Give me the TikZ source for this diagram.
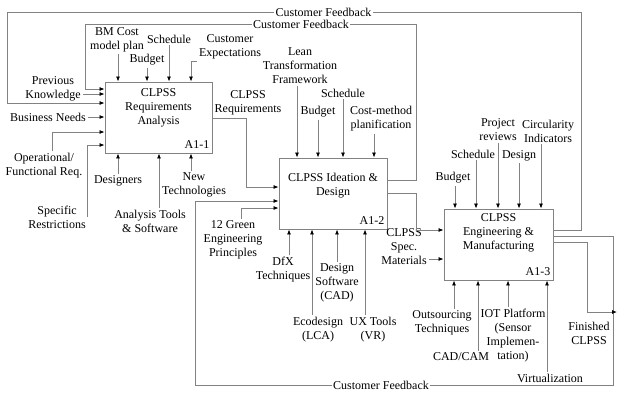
\documentclass[tikz,border=0pt]{standalone}
\usepackage{fontspec}
\setmainfont{Liberation Serif}
\usepackage{tikz}
\usetikzlibrary{positioning,calc,arrows.meta}
\definecolor{linegray}{RGB}{130,130,130}

\begin{document}
\begin{tikzpicture}[x=1pt,y=-1pt,
    font=\fontsize{12}{14}\selectfont,
    fbox/.style={draw=linegray, line width=0.9pt, minimum width=107pt, minimum height=71pt, inner sep=0pt},
    ttl/.style={align=center, inner sep=0pt},
    lbl/.style={align=center, inner sep=2pt},
    boxcode/.style={anchor=south east, inner xsep=3pt, inner ysep=5pt},
    arr/.style={draw=linegray, line width=0.8pt, -{Latex[length=5pt,width=4pt,color=black]}},
    ln/.style={draw=linegray, line width=0.8pt}]
    \useasboundingbox (0,0) rectangle (617,392);

    % activity boxes
    \node[fbox] (a11) at (158.5,117.5) {};
    \node[fbox, minimum width=108pt] (a12) at (333,193.5) {};
    \node[fbox, minimum width=109pt] (a13) at (498.5,244.5) {};
    \node[ttl, below=7pt of a11.north] (a11t) {CLPSS\\Requirements\\Analysis};
    \node[ttl, below=15pt of a12.north] (a12t) {CLPSS Ideation \&\\Design};
    \node[ttl, below=5pt of a13.north] (a13t) {CLPSS\\Engineering \&\\Manufacturing};
    \node[boxcode] (a11c) at (a11.south east) {A1-1};
    \node[boxcode] (a12c) at (a12.south east) {A1-2};
    \node[boxcode] (a13c) at (a13.south east) {A1-3};

    % customer feedback loops
    \node[lbl, inner sep=1pt] (fb1) at (323.5,12) {Customer Feedback};
    \node[lbl, inner sep=1pt] (fb2) at (301,24) {Customer Feedback};
    \node[lbl, inner sep=1pt] (fb3) at (381,385) {Customer Feedback};
    \draw[ln] (a13.east |- 0,230) -| (581,12) -- (fb1.east);
    \draw[arr] (fb1.west) -| (7,103) -- (a11.west |- 0,103);
    \draw[ln] (a12.east |- 0,180) -| (416,24) -- (fb2.east);
    \draw[arr] (fb2.west) -| (85,89) -- (a11.west |- 0,89);
    \draw[ln] (a13.east |- 0,236) -| (613,385) -- (fb3.east);
    \draw[arr] (fb3.west) -| (195,201) -- (a12.west |- 0,201);

    % outputs
    \node[lbl] (req) at (248,103) {CLPSS\\Requirements};
    \draw[arr] (a11.east |- 0,118) -| (246,187) -- (a12.west |- 0,187);
    \node[lbl] (spec) at (404,247) {CLPSS\\Spec.\\Materials};
    \draw[arr] (a12.east |- 0,193) -| (416,230) -- (a13.west |- 0,230);
    \draw[arr] (spec.east |- 0,259) -- (a13.west |- 0,259);
    \node[lbl] (fin) at (589,333) {Finished\\CLPSS};
    \coordinate (finout) at (617,312);
    \draw[arr] (a13.east |- 0,242) -| (587,312) -- (finout);

    % A1-1 inputs and mechanisms
    \node[lbl] (bmc) at (117,40) {BM Cost\\model plan};
    \node[lbl] (bud1) at (147,60) {Budget};
    \node[lbl] (sch1) at (169,39) {Schedule};
    \node[lbl] (cex) at (230,47) {Customer\\Expectations};
    \draw[arr] (bmc.south -| 118,0) -- (a11.north -| 118,0);
    \draw[arr] (bud1.south) -- (bud1.south |- a11.north);
    \draw[arr] (sch1.south) -- (sch1.south |- a11.north);
    \draw[arr] (cex.south west) -| (a11.north -| 191,0);
    \node[lbl] (prevk) at (53,89) {Previous\\Knowledge};
    \node[lbl] (busn) at (48,117) {Business Needs};
    \node[lbl] (oper) at (44,166) {Operational/\\Functional Req.};
    \node[lbl] (restr) at (57,217) {Specific\\Restrictions};
    \draw[arr] (prevk.east |- 0,94) -- (a11.west |- 0,94);
    \draw[arr] (busn.east) -- (busn.east -| a11.west);
    \draw[arr] ([xshift=8pt]oper.north) |- (a11.west |- 0,132);
    \draw[arr] (restr.east) |- (a11.west |- 0,145);
    \node[lbl] (desg) at (118,181) {Designers};
    \node[lbl] (atool) at (150,221) {Analysis Tools\\\& Software};
    \node[lbl] (newt) at (194,185) {New\\Technologies};
    \draw[arr] (desg.north) -- (desg.north |- a11.south);
    \draw[arr] (atool.north -| 159,0) -- (a11.south -| 159,0);
    \draw[arr] (newt.north -| 191,0) -- (a11.south -| 191,0);

    % A1-2 inputs and mechanisms
    \node[lbl] (lean) at (300,66) {Lean\\Transformation\\Framework};
    \node[lbl] (bud2) at (318,112) {Budget};
    \node[lbl] (sch2) at (343,93) {Schedule};
    \node[lbl] (costm) at (381,119) {Cost-method\\planification};
    \draw[arr] (lean.south -| 297,0) -- (a12.north -| 297,0);
    \draw[arr] (bud2.south) -- (bud2.south |- a12.north);
    \draw[arr] (sch2.south) -- (sch2.south |- a12.north);
    \draw[arr] (costm.south -| 374,0) -- (a12.north -| 374,0);
    \node[lbl] (green) at (233,240) {12 Green\\Engineering\\Principles};
    \draw[arr] (green.north -| 241,0) |- (a12.west |- 0,208);
    \node[lbl] (dfx) at (283,270) {DfX\\Techniques};
    \node[lbl] (eco) at (318,330) {Ecodesign\\(LCA)};
    \node[lbl] (dsw) at (337,283) {Design\\Software\\(CAD)};
    \node[lbl] (uxt) at (373,330) {UX Tools\\(VR)};
    \draw[arr] (dfx.north -| 289,0) -- (a12.south -| 289,0);
    \draw[arr] (eco.north -| 312,0) -- (a12.south -| 312,0);
    \draw[arr] (dsw.north) -- (dsw.north |- a12.south);
    \draw[arr] (uxt.north -| 365,0) -- (a12.south -| 365,0);

    % A1-3 inputs and mechanisms
    \node[lbl] (bud3) at (453,178) {Budget};
    \node[lbl] (sch3) at (473,154) {Schedule};
    \node[lbl] (prj) at (498,130) {Project\\reviews};
    \node[lbl] (dsn) at (519,156) {Design};
    \node[lbl] (circ) at (548,131) {Circularity\\Indicators};
    \draw[arr] (bud3.south -| 455,0) -- (a13.north -| 455,0);
    \draw[arr] (sch3.south -| 476,0) -- (a13.north -| 476,0);
    \draw[arr] (prj.south) -- (prj.south |- a13.north);
    \draw[arr] (dsn.south) -- (dsn.south |- a13.north);
    \draw[arr] (circ.south -| 541,0) -- (a13.north -| 541,0);
    \node[lbl] (outs) at (442,323) {Outsourcing\\Techniques};
    \node[lbl] (cadcam) at (461,357) {CAD/CAM};
    \node[lbl] (iot) at (513,336) {IOT Platform\\(Sensor\\Implemen-\\tation)};
    \node[lbl] (virt) at (550,378) {Virtualization};
    \draw[arr] (outs.north -| 454,0) -- (a13.south -| 454,0);
    \draw[arr] (cadcam.north -| 478,0) -- (a13.south -| 478,0);
    \draw[arr] (iot.north -| 508,0) -- (a13.south -| 508,0);
    \draw[arr] (virt.north -| 547,0) -- (a13.south -| 547,0);
\end{tikzpicture}
\end{document}
